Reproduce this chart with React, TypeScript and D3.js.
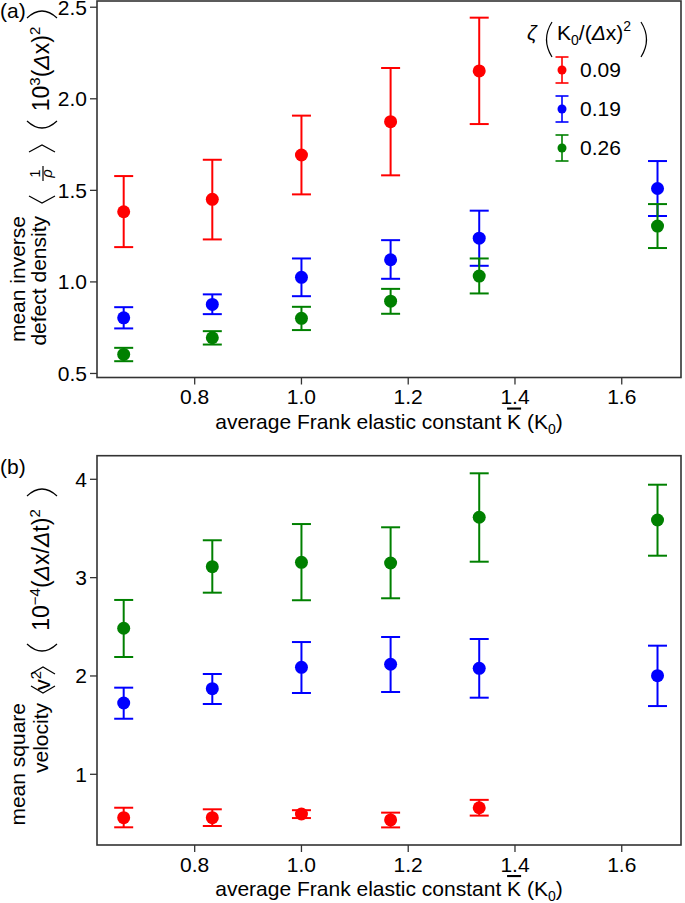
import * as d3 from 'd3';
import * as React from 'react';

// average Frank elastic constant (K0)
const kValues = [0.667, 0.833, 1.0, 1.167, 1.333, 1.667];
const zetaLabels = ['0.09', '0.19', '0.26'];
const seriesColors = ['#ff0000', '#0000ff', '#008000'];

const kTicks = [0.8, 1.0, 1.2, 1.4, 1.6];
const densityTicks = [0.5, 1.0, 1.5, 2.0, 2.5];
const velocityTicks = [1, 2, 3, 4];

// (a) mean inverse defect density, 10^3 (dx)^2
const densityRed = [1.383, 1.451, 1.693, 1.875, 2.152, null];
const densityRedLo = [1.19, 1.232, 1.478, 1.582, 1.862, null];
const densityRedHi = [1.578, 1.667, 1.908, 2.168, 2.443, null];
const densityBlue = [0.804, 0.877, 1.025, 1.121, 1.239, 1.51];
const densityBlueLo = [0.746, 0.824, 0.922, 1.017, 1.088, 1.36];
const densityBlueHi = [0.862, 0.932, 1.128, 1.228, 1.389, 1.66];
const densityGreen = [0.604, 0.695, 0.801, 0.895, 1.032, 1.305];
const densityGreenLo = [0.567, 0.658, 0.737, 0.826, 0.937, 1.185];
const densityGreenHi = [0.64, 0.731, 0.864, 0.962, 1.128, 1.425];

// (b) mean square velocity, 10^-4 (dx/dt)^2
const velocityRed = [0.559, 0.559, 0.596, 0.536, 0.66, null];
const velocityRedLo = [0.461, 0.474, 0.555, 0.46, 0.58, null];
const velocityRedHi = [0.66, 0.644, 0.635, 0.61, 0.74, null];
const velocityBlue = [1.725, 1.871, 2.088, 2.119, 2.078, 2.003];
const velocityBlueLo = [1.565, 1.715, 1.827, 1.837, 1.779, 1.694];
const velocityBlueHi = [1.881, 2.02, 2.345, 2.396, 2.376, 2.308];
const velocityGreen = [2.485, 3.111, 3.156, 3.149, 3.614, 3.586];
const velocityGreenLo = [2.193, 2.847, 2.77, 2.79, 3.162, 3.223];
const velocityGreenHi = [2.773, 3.38, 3.545, 3.512, 4.061, 3.945];

const FONT = "'Liberation Sans', Arial, Helvetica, sans-serif";
const W = 685;
const H = 903;
const LEFT = 97;
const RIGHT = 681;

const x = d3.scaleLinear().domain([0.617, 1.711]).range([LEFT, RIGHT]);

type Series = { mean: (number | null)[]; lo: (number | null)[]; hi: (number | null)[]; color: string };

function ErrorSeries(props: { s: Series; y: d3.ScaleLinear<number, number> }) {
    const { s, y } = props;
    return (
        <g>
            {kValues.map((k, i) => {
                const m = s.mean[i];
                if (m == null) return null;
                const cx = x(k);
                const yl = y(s.lo[i] as number);
                const yh = y(s.hi[i] as number);
                return (
                    <g key={i} stroke={s.color} strokeWidth={2}>
                        <line x1={cx} x2={cx} y1={yl} y2={yh} />
                        <line x1={cx - 9.5} x2={cx + 9.5} y1={yh} y2={yh} />
                        <line x1={cx - 9.5} x2={cx + 9.5} y1={yl} y2={yl} />
                        <circle cx={cx} cy={y(m)} r={6.5} fill={s.color} stroke="none" />
                    </g>
                );
            })}
        </g>
    );
}

function Panel(props: {
    top: number;
    bottom: number;
    domain: [number, number];
    ticks: number[];
    fmt: (v: number) => string;
    series: Series[];
}) {
    const { top, bottom, domain, ticks, fmt, series } = props;
    const y = d3.scaleLinear().domain(domain).range([bottom, top]);
    return (
        <g>
            {series.map((s, i) => <ErrorSeries key={i} s={s} y={y} />)}
            <rect x={LEFT} y={top} width={RIGHT - LEFT} height={bottom - top}
                fill="none" stroke="#333" strokeWidth={1.6} />
            {ticks.map(t => (
                <g key={t}>
                    <line x1={LEFT - 7} x2={LEFT} y1={y(t)} y2={y(t)} stroke="#333" strokeWidth={1.3} />
                    <text x={LEFT - 10} y={y(t)} dy="0.35em" textAnchor="end" fontSize={21}>{fmt(t)}</text>
                </g>
            ))}
            {kTicks.map(t => (
                <g key={t}>
                    <line x1={x(t)} x2={x(t)} y1={bottom} y2={bottom + 7} stroke="#333" strokeWidth={1.3} />
                    <text x={x(t)} y={bottom + 12} dy="0.71em" textAnchor="middle" fontSize={21}>
                        {d3.format('.1f')(t)}
                    </text>
                </g>
            ))}
            <text x={(LEFT + RIGHT) / 2} y={bottom + 51} textAnchor="middle" fontSize={21}>
                average Frank elastic constant <tspan style={{ textDecoration: 'overline' }}>K</tspan> (K
                <tspan fontSize={14} dy={5}>0</tspan><tspan dy={-5}>)</tspan>
            </text>
        </g>
    );
}

// shapes drawn in the rotated label frame (u runs along the text, v across it)
function parenOpen(tip: number, v0: number, v1: number) {
    const mid = (v0 + v1) / 2;
    return `M${tip + 11},${v0} Q${tip - 3},${mid} ${tip + 11},${v1}`;
}

function parenClose(tip: number, v0: number, v1: number) {
    const mid = (v0 + v1) / 2;
    return `M${tip - 11},${v0} Q${tip + 3},${mid} ${tip - 11},${v1}`;
}

function angleOpen(tip: number, v0: number, v1: number) {
    const mid = (v0 + v1) / 2;
    return `M${tip + 7},${v0} L${tip},${mid} L${tip + 7},${v1}`;
}

function angleClose(tip: number, v0: number, v1: number) {
    const mid = (v0 + v1) / 2;
    return `M${tip - 7},${v0} L${tip},${mid} L${tip - 7},${v1}`;
}

export default function App() {
    const red = seriesColors[0];
    const blue = seriesColors[1];
    const green = seriesColors[2];
    const densitySeries: Series[] = [
        { mean: densityRed, lo: densityRedLo, hi: densityRedHi, color: red },
        { mean: densityBlue, lo: densityBlueLo, hi: densityBlueHi, color: blue },
        { mean: densityGreen, lo: densityGreenLo, hi: densityGreenHi, color: green },
    ];
    const velocitySeries: Series[] = [
        { mean: velocityRed, lo: velocityRedLo, hi: velocityRedHi, color: red },
        { mean: velocityBlue, lo: velocityBlueLo, hi: velocityBlueHi, color: blue },
        { mean: velocityGreen, lo: velocityGreenLo, hi: velocityGreenHi, color: green },
    ];

    return (
        <div style={{ position: 'absolute', left: 0, top: 0 }}>
            <svg width={W} height={H} style={{ display: 'block', background: '#fff' }}
                fontFamily={FONT} fill="#000">
                <Panel top={1} bottom={377.5} domain={[0.478, 2.534]} ticks={densityTicks}
                    fmt={d3.format('.1f')} series={densitySeries} />
                <Panel top={455.7} bottom={845} domain={[0.281, 4.24]} ticks={velocityTicks}
                    fmt={d3.format('d')} series={velocitySeries} />

                <text x={0} y={18} fontSize={21}>(a)</text>
                <text x={0} y={474} fontSize={21}>(b)</text>

                {/* y label (a) */}
                <g transform="rotate(-90)" fontSize={21}>
                    <text x={-216} y={25} textAnchor="end">mean inverse</text>
                    <text x={-216} y={46} textAnchor="end">defect density</text>
                    <g fill="none" stroke="#000" strokeWidth={1.2}>
                        <path d={angleOpen(-203, 29, 55)} />
                        <path d={angleClose(-145, 29, 55)} />
                        <line x1={-181} x2={-166} y1={43} y2={43} />
                        <path d={parenOpen(-132, 27, 57)} />
                        <path d={parenClose(-7, 27, 57)} />
                    </g>
                    <text x={-173.5} y={40} textAnchor="middle" fontSize={15}>1</text>
                    <text x={-173.5} y={52} textAnchor="middle" fontSize={15} fontStyle="italic">ρ</text>
                    <text x={-69} y={49} textAnchor="middle" fontSize={23}>
                        10<tspan fontSize={15} dy={-9}>3</tspan>
                        <tspan dy={9}>(</tspan><tspan fontStyle="italic">Δ</tspan>x)
                        <tspan fontSize={15} dy={-9}>2</tspan>
                    </text>
                </g>

                {/* y label (b) */}
                <g transform="rotate(-90)" fontSize={21}>
                    <text x={-703} y={25} textAnchor="end">mean square</text>
                    <text x={-703} y={48} textAnchor="end">velocity</text>
                    <g fill="none" stroke="#000" strokeWidth={1.2}>
                        <path d={angleOpen(-693, 31, 55)} />
                        <path d={angleClose(-667, 31, 55)} />
                        <path d={parenOpen(-655, 27, 57)} />
                        <path d={parenClose(-485, 27, 57)} />
                    </g>
                    <text x={-680.5} y={50} textAnchor="middle" fontSize={22}>
                        v<tspan fontSize={15} dy={-9}>2</tspan>
                    </text>
                    <text x={-570} y={49} textAnchor="middle" fontSize={23}>
                        10<tspan fontSize={15} dy={-9}>−4</tspan>
                        <tspan dy={9}>(</tspan><tspan fontStyle="italic">Δ</tspan>x/<tspan fontStyle="italic">Δ</tspan>t)
                        <tspan fontSize={15} dy={-9}>2</tspan>
                    </text>
                </g>

                {/* legend */}
                <g>
                    <text x={527} y={40} fontSize={21} fontStyle="italic">ζ</text>
                    <path d="M552,22 Q541,39.5 552,57" fill="none" stroke="#000" strokeWidth={1.2} />
                    <path d="M641,22 Q652,39.5 641,57" fill="none" stroke="#000" strokeWidth={1.2} />
                    <text x={557} y={40} fontSize={21}>
                        K<tspan fontSize={14} dy={5}>0</tspan><tspan dy={-5}>/(</tspan>
                        <tspan fontStyle="italic">Δ</tspan>x)<tspan fontSize={14} dy={-9}>2</tspan>
                    </text>
                    {zetaLabels.map((lab, i) => {
                        const cy = 70 + i * 39;
                        const c = seriesColors[i];
                        return (
                            <g key={lab}>
                                <g stroke={c} strokeWidth={1.6}>
                                    <line x1={562} x2={562} y1={cy - 13} y2={cy + 13} />
                                    <line x1={555.5} x2={568.5} y1={cy - 13} y2={cy - 13} />
                                    <line x1={555.5} x2={568.5} y1={cy + 13} y2={cy + 13} />
                                </g>
                                <circle cx={562} cy={cy} r={4.5} fill={c} />
                                <text x={580} y={cy} dy="0.35em" fontSize={21}>{lab}</text>
                            </g>
                        );
                    })}
                </g>
            </svg>
        </div>
    );
}
